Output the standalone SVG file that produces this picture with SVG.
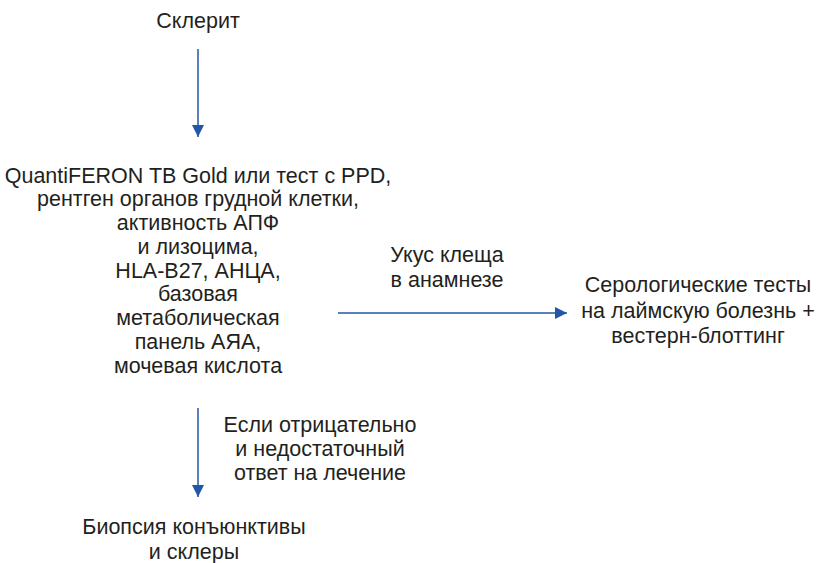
<svg xmlns="http://www.w3.org/2000/svg" width="819" height="563" viewBox="0 0 819 563">
<style>
text{font-family:"Liberation Sans",Arial,sans-serif;font-size:21.5px;fill:#231f20;text-anchor:middle}
.c{stroke:#2157a6;stroke-width:1.5;fill:none}
</style>
<defs>
<marker id="ah" viewBox="0 0 12 12" refX="12" refY="6" markerWidth="12" markerHeight="12" markerUnits="userSpaceOnUse" orient="auto">
<path d="M0,0 L12,6 L0,12 Z" fill="#2157a6"/>
</marker>
</defs>
<rect width="819" height="563" fill="#fff"/>
<g id="connectors">
<line class="c" x1="198" y1="49" x2="198" y2="137" marker-end="url(#ah)"/>
<line class="c" x1="338" y1="313" x2="567" y2="313" marker-end="url(#ah)"/>
<line class="c" x1="198" y1="408" x2="198" y2="497" marker-end="url(#ah)"/>
</g>
<g id="scleritis"><text x="198" y="28">Склерит</text></g>
<g id="tests">
<text x="198" y="183">QuantiFERON TB Gold или тест с PPD,</text>
<text x="198" y="206">рентген органов грудной клетки,</text>
<text x="198" y="230">активность АПФ</text>
<text x="198" y="254">и лизоцима,</text>
<text x="198" y="278">HLA-B27, АНЦА,</text>
<text x="198" y="301">базовая</text>
<text x="198" y="325">метаболическая</text>
<text x="198" y="349">панель АЯА,</text>
<text x="198" y="373">мочевая кислота</text>
</g>
<g id="tick-label">
<text x="447" y="262">Укус клеща</text>
<text x="447" y="287">в анамнезе</text>
</g>
<g id="lyme">
<text x="698" y="292">Серологические тесты</text>
<text x="698" y="318">на лаймскую болезнь +</text>
<text x="698" y="343">вестерн-блоттинг</text>
</g>
<g id="neg-label">
<text x="320" y="432">Если отрицательно</text>
<text x="320" y="456">и недостаточный</text>
<text x="320" y="480">ответ на лечение</text>
</g>
<g id="biopsy">
<text x="194" y="534">Биопсия конъюнктивы</text>
<text x="194" y="559">и склеры</text>
</g>
</svg>
